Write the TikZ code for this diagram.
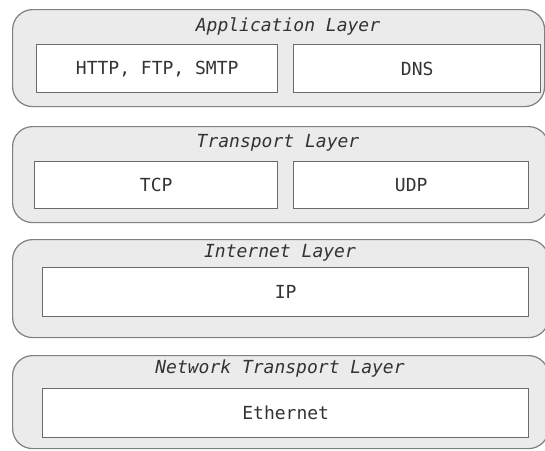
\documentclass[tikz,border=0pt]{standalone}
\usepackage{fontspec}
\setmonofont{DejaVu Sans Mono}
\begin{document}
\begin{tikzpicture}[x=1pt,y=-1pt,
  layerbox/.style={draw=black!50, line width=1.2pt, fill=black!8, rounded corners=20pt, anchor=north west, inner sep=0pt},
  protobox/.style={draw=black!58, line width=1.4pt, fill=white, anchor=north west, inner sep=0pt},
  prototext/.style={font=\ttfamily\fontsize{18}{20}\selectfont, text=black!80},
  titletext/.style={font=\ttfamily\itshape\fontsize{18}{20}\selectfont, text=black!80}]
\useasboundingbox[fill=white] (0,0) rectangle (545,450);
\begin{scope}
\clip (0,0) rectangle (545,450);
% Application layer
\node[layerbox, minimum width=532pt, minimum height=97pt] (app) at (12,9) {};
\node[titletext] (appt) at (288,26) {Application Layer};
\node[protobox, minimum width=241pt, minimum height=48pt] (http) at (36,44) {};
\node[prototext] at (http.center) {HTTP, FTP, SMTP};
\node[protobox, minimum width=247pt, minimum height=48pt] (dns) at (293,44) {};
\node[prototext] at (dns.center) {DNS};
% Transport layer
\node[layerbox, minimum width=536pt, minimum height=96pt] (tra) at (12,126) {};
\node[titletext] (trat) at (278,143) {Transport Layer};
\node[protobox, minimum width=243pt, minimum height=47pt] (tcp) at (34,161) {};
\node[prototext] at (tcp.center) {TCP};
\node[protobox, minimum width=235pt, minimum height=47pt] (udp) at (293,161) {};
\node[prototext] at (udp.center) {UDP};
% Internet layer
\node[layerbox, minimum width=536pt, minimum height=98pt] (inet) at (12,239) {};
\node[titletext] (inett) at (280,253) {Internet Layer};
\node[protobox, minimum width=486pt, minimum height=49pt] (ip) at (42,267) {};
\node[prototext] at (ip.center) {IP};
% Network transport layer
\node[layerbox, minimum width=536pt, minimum height=93pt] (net) at (12,355) {};
\node[titletext] (nett) at (280,369) {Network Transport Layer};
\node[protobox, minimum width=486pt, minimum height=49pt] (eth) at (42,388) {};
\node[prototext] at (eth.center) {Ethernet};
\end{scope}
\end{tikzpicture}
\end{document}
